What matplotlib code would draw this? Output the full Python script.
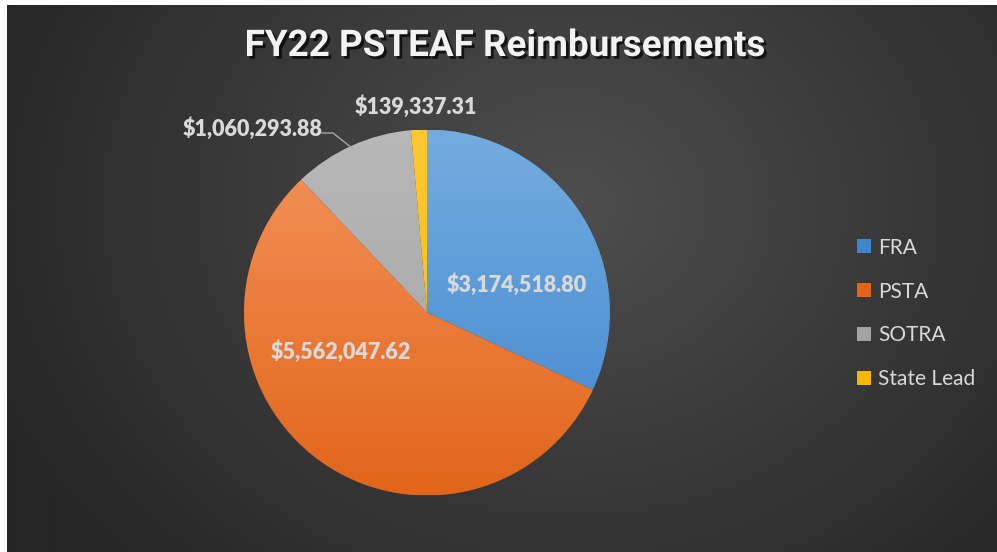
import numpy as np
import matplotlib
matplotlib.use("Agg")
import matplotlib.pyplot as plt
import matplotlib.patheffects as pe
from matplotlib.colors import LinearSegmentedColormap

categories = ['FRA', 'PSTA', 'SOTRA', 'State Lead']
amounts = [3174518.80, 5562047.62, 1060293.88, 139337.31]
labels = ['$3,174,518.80', '$5,562,047.62', '$1,060,293.88', '$139,337.31']

# top / bottom colours of each slice gradient
top_colors = ['#74acdf', '#f4945c', '#b8b8b8', '#ffc832']
bot_colors = ['#3f86cf', '#e2651a', '#a2a2a2', '#f5b800']
# where Excel put the data labels (axes data units, pie radius = 1)
label_pos = [(0.49, 0.155), (-0.47, -0.215), (-0.955, 1.005), (-0.06, 1.125)]

W, H = 997, 552
fig = plt.figure(figsize=(W / 100, H / 100), dpi=100)
fig.patch.set_facecolor('white')

# dark radial background
bg = fig.add_axes([7 / W, 0, 1 - 7 / W, 1 - 5 / H])
bg.set_axis_off()
yy, xx = np.mgrid[0:547, 0:990]
d = np.sqrt(((xx - 560) / 620.0) ** 2 + ((yy - 200) / 520.0) ** 2)
d = np.clip(d, 0, 1)
bg_cmap = LinearSegmentedColormap.from_list('bg', ['#4e4e4e', '#262626'])
bg.imshow(d, cmap=bg_cmap, aspect='auto', extent=(0, 1, 0, 1), vmin=0, vmax=1)
bg.set_xlim(0, 1)
bg.set_ylim(0, 1)

cx, cy, r = 427, 312.5, 183
ax = fig.add_axes([(cx - r) / W, (H - cy - r) / H, 2 * r / W, 2 * r / H])
ax.set_axis_off()
wedges, _ = ax.pie(amounts, colors=bot_colors, startangle=90, counterclock=False,
                   radius=1, wedgeprops=dict(linewidth=0.6, edgecolor='#3a3a3a'))
ax.set_xlim(-1, 1)
ax.set_ylim(-1, 1)

grad = np.linspace(0, 1, 256).reshape(-1, 1)
for w, c1, c2 in zip(wedges, top_colors, bot_colors):
    cm = LinearSegmentedColormap.from_list('g', [c1, c2])
    im = ax.imshow(grad, cmap=cm, extent=(-1, 1, -1, 1), aspect='auto', zorder=w.get_zorder() + 0.1)
    im.set_clip_path(w)

lab_font = ['Lato', 'DejaVu Sans']
for (x, y), t in zip(label_pos, labels):
    ax.text(x, y, t, ha='center', va='center', fontsize=15.5, fontweight='heavy',
            color='#d9d9d9', family=lab_font, clip_on=False, zorder=10)

# leader line for SOTRA label
ax.plot([(322 - cx) / r, (333 - cx) / r, (352 - cx) / r],
        [(cy - 133) / r, (cy - 133) / r, (cy - 148) / r],
        color='#a6a6a6', lw=1, clip_on=False, zorder=10)

fig.text(0.506, 1 - 46 / H, 'FY22 PSTEAF Reimbursements', ha='center', va='center',
         fontsize=26.5, fontweight='bold', color='#f2f2f2',
         family=['Roboto', 'DejaVu Sans'],
         path_effects=[pe.SimplePatchShadow(offset=(2, -2), shadow_rgbFace='black', alpha=0.7),
                       pe.Normal()])

leg = fig.legend(wedges, categories, loc='center left', bbox_to_anchor=(857 / W, 1 - 313.5 / H),
                 frameon=False, labelcolor='#d9d9d9', prop={'family': lab_font, 'size': 15},
                 handlelength=0.65, handleheight=0.65, handletextpad=0.35, labelspacing=1.15,
                 borderpad=0, borderaxespad=0)
for h in leg.legend_handles:
    h.set_edgecolor('none')

fig.savefig('out.png', dpi=100)
